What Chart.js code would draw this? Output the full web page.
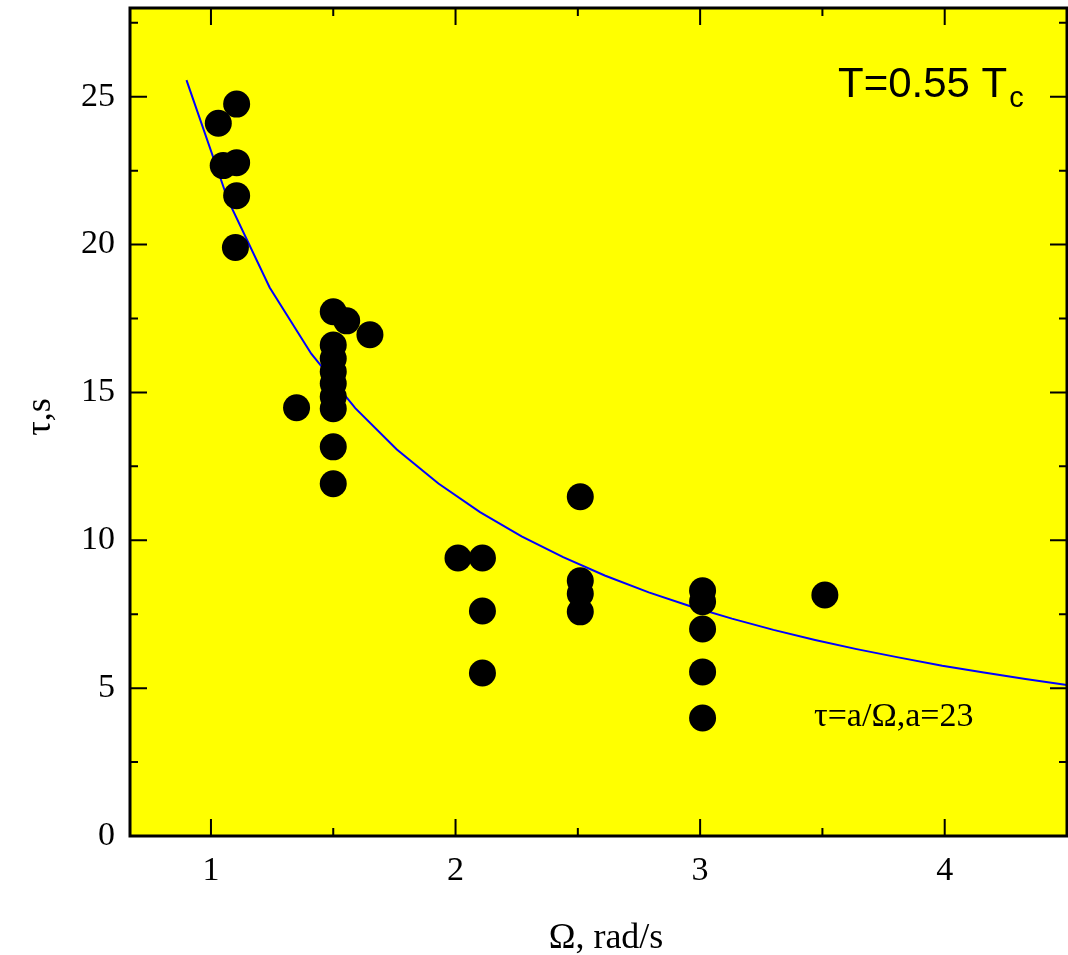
<!DOCTYPE html>
<html>
<head>
<meta charset="utf-8">
<script src="https://cdn.jsdelivr.net/npm/chart.js@4.4.0/dist/chart.umd.min.js"></script>
<style>
  html, body { margin: 0; padding: 0; background: #fff; }
  #wrap { width: 1068px; height: 955px; }
</style>
</head>
<body>
<div id="wrap"><canvas id="c" width="1068" height="955"></canvas></div>
<script>
// measured points, Omega (rad/s) and tau (s)
const omega = [1.03, 1.105, 1.05, 1.105, 1.105, 1.10,
  1.50, 1.555, 1.65,
  1.50, 1.50, 1.50, 1.50, 1.50, 1.50,
  1.35, 1.50, 1.50,
  2.01, 2.11, 2.11, 2.11,
  2.51, 2.51, 2.51, 2.51,
  3.01, 3.01, 3.01, 3.01, 3.01,
  3.51];
const tau = [24.1, 24.75, 22.67, 22.77, 21.65, 19.9,
  17.73, 17.42, 16.95,
  16.6, 16.15, 15.7, 15.3, 14.85, 14.45,
  14.48, 13.16, 11.91,
  9.40, 9.40, 7.61, 5.51,
  11.47, 8.63, 8.19, 7.58,
  8.29, 7.92, 7.00, 5.55, 3.99,
  8.15];

// fit curve tau = a / Omega, a = 23 (sampled as in the plot)
const fitOmega = [0.90, 1.07, 1.24, 1.41, 1.59, 1.76, 1.93, 2.10, 2.27, 2.44, 2.61,
  2.79, 2.96, 3.13, 3.30, 3.47, 3.64, 3.81, 3.99, 4.16, 4.33, 4.50];
const fitTau = [25.56, 21.50, 18.55, 16.31, 14.47, 13.07, 11.92, 10.95, 10.13, 9.43, 8.81,
  8.24, 7.77, 7.35, 6.97, 6.63, 6.32, 6.04, 5.76, 5.53, 5.31, 5.11];

const xMajor = [1, 2, 3, 4];
const xMinor = [1.5, 2.5, 3.5, 4.5];
const yMajor = [0, 5, 10, 15, 20, 25];
const yMinor = [2.5, 7.5, 12.5, 17.5, 22.5, 27.5];

const serif = '"Liberation Serif", "Times New Roman", serif';
const sans = '"Liberation Sans", Arial, sans-serif';

function noPad(scale) {
  scale.paddingTop = 0;
  scale.paddingBottom = 0;
  scale.paddingLeft = 0;
  scale.paddingRight = 0;
}

const frame = {
  id: 'frame',
  beforeDraw(chart) {
    const a = chart.chartArea, ctx = chart.ctx;
    ctx.save();
    ctx.fillStyle = '#ffff00';
    ctx.fillRect(a.left, a.top, a.right - a.left, a.bottom - a.top);
    ctx.restore();
  },
  afterDraw(chart) {
    const a = chart.chartArea, ctx = chart.ctx;
    const xs = chart.scales.x, ys = chart.scales.y;
    ctx.save();
    ctx.strokeStyle = '#000';
    ctx.lineWidth = 2;
    // inward ticks on all four sides
    const tick = (vals, len) => {
      vals.forEach(v => {
        const px = xs.getPixelForValue(v);
        ctx.beginPath();
        ctx.moveTo(px, a.bottom); ctx.lineTo(px, a.bottom - len);
        ctx.moveTo(px, a.top); ctx.lineTo(px, a.top + len);
        ctx.stroke();
      });
    };
    const ytick = (vals, len) => {
      vals.forEach(v => {
        const py = ys.getPixelForValue(v);
        ctx.beginPath();
        ctx.moveTo(a.left, py); ctx.lineTo(a.left + len, py);
        ctx.moveTo(a.right, py); ctx.lineTo(a.right - len, py);
        ctx.stroke();
      });
    };
    tick(xMajor, 17); tick(xMinor, 8);
    ytick(yMajor.slice(1), 17); ytick(yMinor, 8);
    ctx.lineWidth = 3;
    ctx.strokeRect(a.left, a.top, a.right - a.left, a.bottom - a.top);

    // texts
    ctx.fillStyle = '#000';
    ctx.textBaseline = 'alphabetic';
    ctx.textAlign = 'left';
    ctx.font = '42px ' + sans;
    ctx.fillText('T=0.55 T', 838, 97);
    const w = ctx.measureText('T=0.55 T').width;
    ctx.font = '29px ' + sans;
    ctx.fillText('c', 838 + w + 2, 107);

    ctx.font = '34px ' + serif;
    ctx.fillText('\u03C4=a/\u03A9,a=23', 814, 726);

    ctx.textAlign = 'center';
    ctx.font = '36px ' + serif;
    ctx.fillText('\u03A9, rad/s', 606, 948);

    ctx.translate(50, 417);
    ctx.rotate(-Math.PI / 2);
    ctx.fillText('\u03C4,s', 0, 0);
    ctx.restore();
  }
};

new Chart(document.getElementById('c'), {
  type: 'scatter',
  data: {
    datasets: [
      {
        label: 'data',
        data: omega.map((x, i) => ({ x: x, y: tau[i] })),
        backgroundColor: '#000',
        borderWidth: 0,
        pointRadius: 13.5,
        order: 0
      },
      {
        label: 'fit',
        data: fitOmega.map((x, i) => ({ x: x, y: fitTau[i] })),
        showLine: true,
        borderColor: '#0000ff',
        borderWidth: 2,
        pointRadius: 0,
        tension: 0,
        fill: false,
        order: 1
      }
    ]
  },
  options: {
    responsive: false,
    animation: false,
    devicePixelRatio: 1,
    layout: { autoPadding: false, padding: { top: 8, right: 1, left: 0, bottom: 0 } },
    plugins: { legend: { display: false }, tooltip: { enabled: false } },
    scales: {
      x: {
        type: 'linear',
        min: 0.669,
        max: 4.5,
        grid: { display: false },
        border: { display: false },
        afterBuildTicks(scale) { scale.ticks = xMajor.map(v => ({ value: v })); },
        afterFit(scale) { scale.height = 119; noPad(scale); },
        ticks: {
          color: '#000',
          padding: 7,
          maxRotation: 0,
          font: { family: serif, size: 34 },
          callback: v => String(v)
        }
      },
      y: {
        min: 0,
        max: 28,
        grid: { display: false },
        border: { display: false },
        afterBuildTicks(scale) { scale.ticks = yMajor.map(v => ({ value: v })); },
        afterFit(scale) { scale.width = 130; noPad(scale); },
        ticks: {
          color: '#000',
          padding: 7,
          font: { family: serif, size: 34 },
          callback: v => String(v)
        }
      }
    }
  },
  plugins: [frame]
});
</script>
</body>
</html>
